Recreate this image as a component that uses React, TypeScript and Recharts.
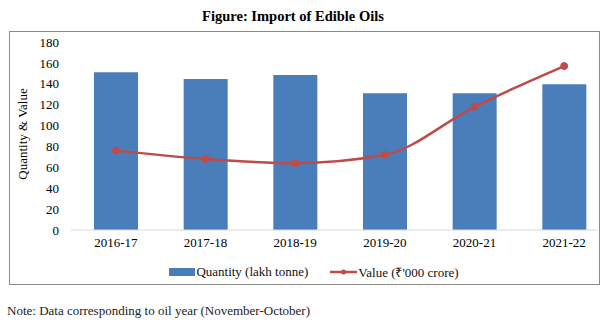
import React from 'react';
import { ComposedChart, Bar, Line, XAxis, YAxis, Legend } from 'recharts';

const years = ['2016-17', '2017-18', '2018-19', '2019-20', '2020-21', '2021-22'];
const quantity = [151, 144.5, 148.5, 131, 131, 139.5];
const value = [76, 68, 64, 72, 118, 157];
const yTicks = [0, 20, 40, 60, 80, 100, 120, 140, 160, 180];

const data = years.map((y, i) => ({ year: y, quantity: quantity[i], value: value[i] }));

const FONT = '"Liberation Serif", "Times New Roman", serif';
const BLUE = '#4A7EBB';
const RED = '#BE4B48';

const LegendContent = () => (
  <div style={{ display: 'flex', justifyContent: 'center', alignItems: 'center', fontFamily: FONT, fontSize: 13, color: '#111', paddingLeft: 20 }}>
    <span style={{ display: 'inline-block', width: 26, height: 8, background: BLUE, marginRight: 1 }} />
    <span style={{ marginRight: 22 }}>Quantity (lakh tonne)</span>
    <svg width={27} height={10} style={{ marginRight: 1 }}>
      <line x1={0} y1={5} x2={27} y2={5} stroke={RED} strokeWidth={2.5} />
      <circle cx={13.5} cy={5} r={2.5} fill={RED} />
    </svg>
    <span>Value (₹'000 crore)</span>
  </div>
);

export default function App() {
  return (
    <div style={{ position: 'absolute', left: 0, top: 0, width: 608, height: 325, background: '#fff', fontFamily: FONT }}>
      <div style={{ position: 'absolute', left: 0, top: 8, width: 586, textAlign: 'center', fontWeight: 'bold', fontSize: 14.5, color: '#000' }}>
        Figure: Import of Edible Oils
      </div>
      <div style={{ position: 'absolute', left: 9, top: 31, width: 589, height: 252, border: '1px solid #8a8a8a' }} />
      <div style={{ position: 'absolute', left: 23, top: 134, width: 0, height: 0 }}>
        <div style={{ position: 'absolute', transform: 'translate(-50%, -50%) rotate(-90deg)', whiteSpace: 'nowrap', fontSize: 13, color: '#000' }}>
          Quantity &amp; Value
        </div>
      </div>
      <div style={{ position: 'absolute', left: 0, top: 0 }}>
        <ComposedChart width={608} height={325} data={data} margin={{ top: 42, right: 10, bottom: 65, left: 11 }}>
          <XAxis
            dataKey="year"
            height={30}
            tickLine={false}
            tickSize={0}
            tickMargin={8}
            axisLine={{ stroke: '#d9d9d9' }}
            padding={{ left: 0, right: -11 }}
            tick={{ fontSize: 13, fill: '#000', fontFamily: FONT }}
            interval={0}
          />
          <YAxis
            domain={[0, 180]}
            ticks={yTicks}
            interval={0}
            width={60}
            axisLine={false}
            tickLine={false}
            tickSize={0}
            tickMargin={12}
            tick={{ fontSize: 13, fill: '#000', fontFamily: FONT }}
          />
          <Legend verticalAlign="middle" layout="horizontal" content={LegendContent} wrapperStyle={{ top: 263, left: 0, width: 608 }} />
          <Bar dataKey="quantity" fill={BLUE} barSize={44} isAnimationActive={false} />
          <Line
            dataKey="value"
            type="monotone"
            stroke={RED}
            strokeWidth={2.5}
            dot={{ r: 3.5, fill: RED, stroke: RED, strokeWidth: 1 }}
            isAnimationActive={false}
          />
        </ComposedChart>
      </div>
      <div style={{ position: 'absolute', left: 7, top: 303, fontSize: 13, color: '#222', whiteSpace: 'nowrap' }}>
        Note: Data corresponding to oil year (November-October)
      </div>
    </div>
  );
}
